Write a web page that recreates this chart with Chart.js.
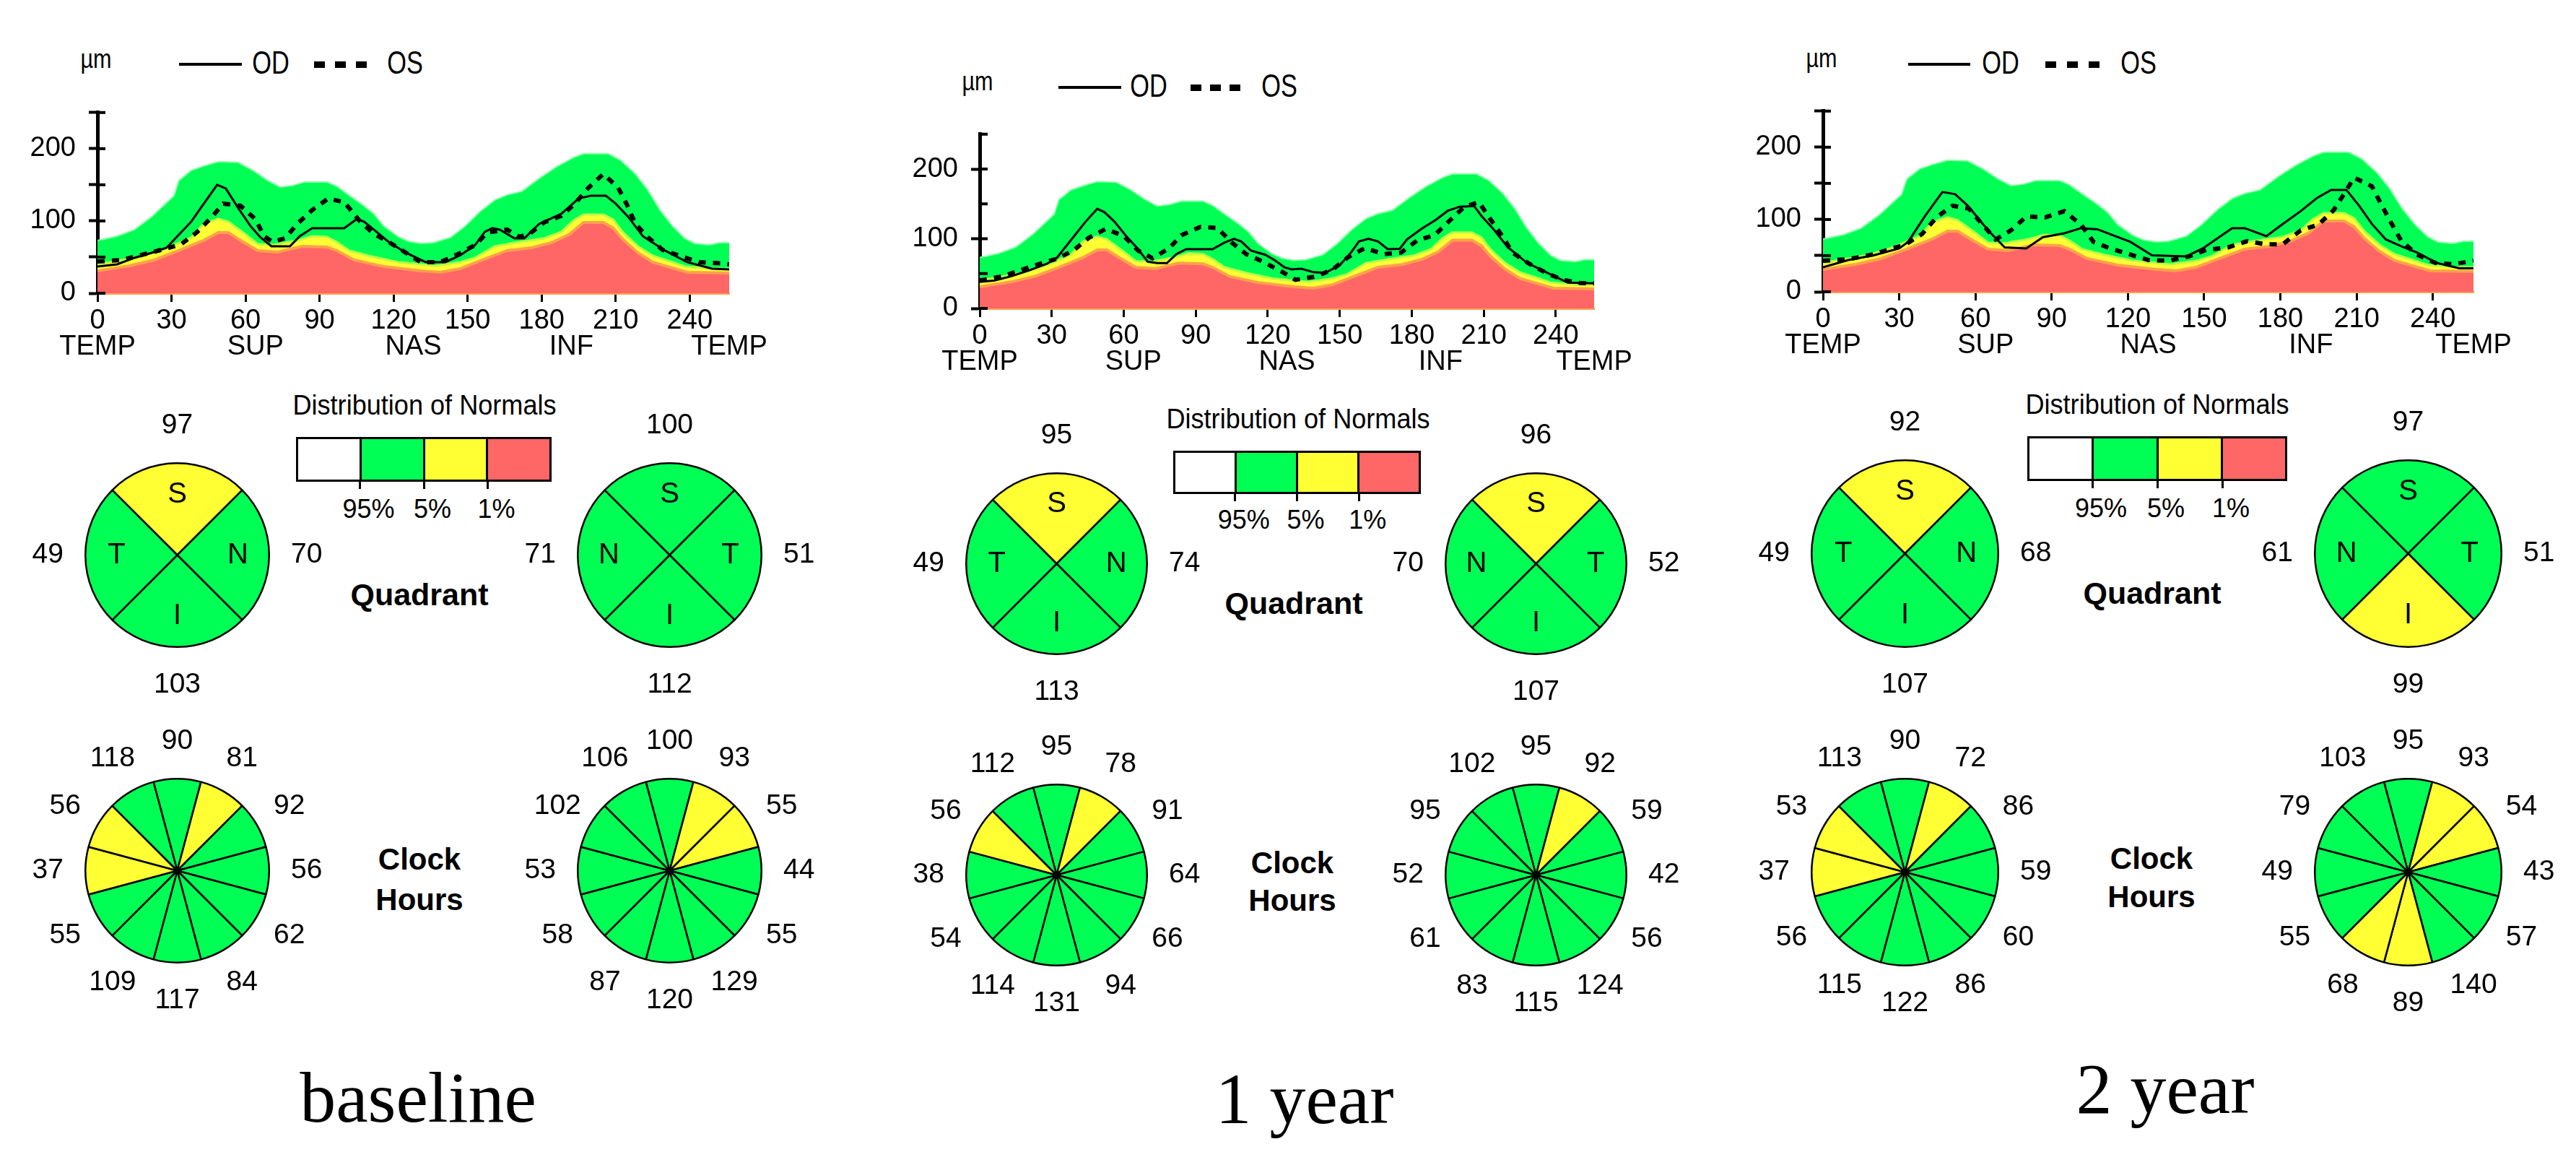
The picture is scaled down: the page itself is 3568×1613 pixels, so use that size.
<!DOCTYPE html>
<html>
<head>
<meta charset="utf-8">
<title>RNFL TSNIT – baseline, 1 year, 2 year</title>
<script src="https://cdn.jsdelivr.net/npm/chart.js@4.4.1/dist/chart.umd.min.js"></script>
<style>
  html, body { margin: 0; padding: 0; background: #fff; }
  #page { position: relative; width: 3568px; height: 1613px; overflow: hidden; background: #fff; }
  #page canvas { position: absolute; }
  .txt { position: absolute; white-space: nowrap; line-height: 1; color: #000;
         transform: translate(-50%, -50%); font-family: "Liberation Sans", Arial, sans-serif; }
  .blk { position: absolute; }
</style>
</head>
<body>
<div id="page"></div>
<script>
// ---- axis ticks / labels ----
const xTicks = [0, 30, 60, 90, 120, 150, 180, 210, 240];
const regionPos = [0, 64, 128, 192, 256];
const regionNames = ["TEMP", "SUP", "NAS", "INF", "TEMP"];
const yTicks = [0, 50, 100, 150, 200, 250];
const yLabels = [0, 100, 200];
const normLabels = ["95%", "5%", "1%"];
const titles = ["baseline", "1 year", "2 year"];

// ---- normative bands (upper limits, µm) ----
const grnX = [0,8,15,22,31,33,38,43,49,57,63,69,74,79,84,93,97,101,108,112,116,122,126,131,136,143,149,155,161,166,172,179,186,193,197,207,212,218,223,228,233,238,242,248,252,256];
const grnY = [73,79,88,106,135,156,170,176,182,181,170,156,147,149,154,154,148,138,121,110,93,78,72,69,70,77,93,113,129,136,141,159,175,188,193,193,184,165,143,115,93,76,69,67,70,70];
const yelX = [0,18,28,38,43,49,53,59,65,71,81,87,93,97,102,111,122,131,137,147,153,161,171,181,188,193,197,205,209,213,219,225,233,238,249,256];
const yelY = [40,51,62,77,96,103,99,84,68,67,73,79,78,71,59,51,43,40,38,43,49,65,71,76,85,101,109,109,102,84,65,52,43,37,34,34];
const redX = [0,13,23,33,43,49,53,59,65,73,83,93,97,104,116,131,139,147,156,166,176,184,191,197,205,209,213,219,225,233,239,256];
const redY = [31,38,46,59,73,84,84,71,59,57,65,64,59,46,37,31,29,34,46,59,63,70,81,98,98,90,74,56,43,35,29,28];

// ---- baseline ----
const od1X = [0,8,15,22,28,32,38,42.5,48.5,52,57,62,66,70.5,78,82,87,100,105,108,112,118,125,133,141,147,153,157,160,163,169,173,179,188,195,200,206,210,215,221,230,239,249,256];
const od1Y = [37,40,49,56,63,77.5,99,121,150,145,118,93,77.5,65,65,79,90,90,102.5,99,88,71,56,43,43,52.5,66.5,85,90,88,76,76,96,110,131,135,135,124,106,79,59,43,34,33];
const os1X = [0,10,19,27,34,40.5,46.5,51,58,64,67.5,71,76,81,87,93.5,100,106,112,118,125,131,139,146,153,158,166,171,175,181,188,193.5,199,205,211,214.5,218,223,229,236.5,244,252.5,256];
const os1Y = [44,46,54,61,68,85,106,124,121,102.5,79,71,76,96,115,131,126,101,82,71,56,43,43,54,66.5,84,88,78,82,98,107,124,146,165,146,123,96,77.5,60,51,43,41.5,40];
const quad1OD = [97, 70, 103, 49],  quad1ODCls = ["y","g","g","g"];
const quad1OS = [100, 51, 112, 71], quad1OSCls = ["g","g","g","g"];
const clock1OD = [90,81,92,56,62,84,117,109,55,37,56,118];
const clock1ODCls = ["g","y","g","g","g","g","g","g","g","y","y","g"];
const clock1OS = [100,93,55,44,55,129,120,87,58,53,102,106];
const clock1OSCls = ["g","y","y","g","g","g","g","g","g","g","g","g"];

// ---- 1 year ----
const od2X = [0,6,13,21,28,32,38,44,49,52,56,61,66,70,74,78,82,86,97,102,106,109,113,119,123,127,130,134,139,144,150,155,158,162,166,170,175,178,184,190,195,200,206,209,214,220,228,236,245,256];
const od2Y = [38,40,46,55,64,72,98,124,143,138,125,104,85,67,65,65,78,85,85,94.5,100,96,83,77,69,59,56,57,52,51,62,81.5,96,100,96,85,85.5,99,114,127,140,146,147,133,114,88,65.5,52,37,36];
const os2X = [0,9.5,18,25,32,39,45.5,52.5,60,66,72,79,84,92,99,105,111,118,126,131.5,140.5,147.5,153.5,160.5,168.5,175.5,182.5,189.5,195.5,202,208,213,218,222,229,236,243,250,256];
const os2Y = [40,46,56,64,71,83,101.5,114,104,83,72,86.5,105,117,115.5,94.5,78,67,52.5,41,46,57,73.5,86.5,78,80,98,105,125,146,152.5,127,102.5,80,64,51,41,36.5,36];
const quad2OD = [95, 74, 113, 49],  quad2ODCls = ["y","g","g","g"];
const quad2OS = [96, 52, 107, 70],  quad2OSCls = ["y","g","g","g"];
const clock2OD = [95,78,91,64,66,94,131,114,54,38,56,112];
const clock2ODCls = ["g","y","g","g","g","g","g","g","g","g","y","g"];
const clock2OS = [95,92,59,42,56,124,115,83,61,52,95,102];
const clock2OSCls = ["g","y","g","g","g","g","g","g","g","g","g","g"];

// ---- 2 year ----
const od3X = [0,10,20,30,33.5,40,47,52,57,65,71.5,80,86.5,95,101.5,108,115,121,129.5,143,149.5,161,166,174.5,181,188,194.5,200,206,211,216,221.5,227.5,234,241.5,250.5,256];
const od3Y = [34,44,50.5,60,69,104,138,135,119,85,61.5,60,75.5,81,88,86.5,77,69,50.5,49,60,88,88,77,94,111.5,130,141,141,119,94,72.5,63,54,40,32.5,32.5];
const os3X = [0,10,20,32.5,39,45,51,57.5,62.5,68,74,80,87.5,95,101.5,106.5,113,120.5,128,136,144,151,159.5,167,174.5,181,188,195,201,205,209,216,220,223.5,227.5,233.5,241,248,256];
const os3Y = [43,45,52,65.5,80,104,119,115,94,72.5,85,104,103,111.5,93,69,60,52,44,43,49,58,61.5,70,65.5,66,85,93,113,135,158,146,119,96,71,52,40,38,43];
const quad3OD = [92, 68, 107, 49],  quad3ODCls = ["y","g","g","g"];
const quad3OS = [97, 51, 99, 61],   quad3OSCls = ["g","g","y","g"];
const clock3OD = [90,72,86,59,60,86,122,115,56,37,53,113];
const clock3ODCls = ["g","y","g","g","g","g","g","g","g","y","y","g"];
const clock3OS = [95,93,54,43,57,140,89,68,55,49,79,103];
const clock3OSCls = ["g","y","y","g","g","g","y","y","g","g","g","g"];

// sectors: quadrants clockwise from top, clock hours 12,1,...,11
const quadSpan = [90, 90, 90, 90];
const clockSpan = [30, 30, 30, 30, 30, 30, 30, 30, 30, 30, 30, 30];
const quadLettersOD = ["S", "N", "I", "T"];
const quadLettersOS = ["S", "T", "I", "N"];

// ---- styling ----
const FONT = '"Liberation Sans", Arial, sans-serif';
const GREEN = "#00ff55", YELLOW = "#ffff33", RED = "#ff6666";
const ORANGE = "#ffa04d", LIME = "#b8ff45", PALEGREEN = "#8cffab";
const CLS = { g: GREEN, y: YELLOW, r: RED, w: "#ffffff" };
const normColors = ["#ffffff", GREEN, YELLOW, RED];

const page = document.getElementById("page");

function text(str, x, y, size, style) {
  const d = document.createElement("div");
  d.className = "txt";
  d.textContent = str;
  d.style.left = x + "px";
  d.style.top = y + "px";
  d.style.fontSize = size + "px";
  if (style) Object.assign(d.style, style);
  page.appendChild(d);
  return d;
}

function block(x, y, w, h, color) {
  const d = document.createElement("div");
  d.className = "blk";
  Object.assign(d.style, { left: x + "px", top: y + "px", width: w + "px", height: h + "px", background: color });
  page.appendChild(d);
  return d;
}

function canvasAt(x, y, w, h) {
  const c = document.createElement("canvas");
  c.width = Math.round(w);
  c.height = Math.round(h);
  c.style.left = Math.round(x) + "px";
  c.style.top = Math.round(y) + "px";
  page.appendChild(c);
  return c;
}

function pts(xs, ys) {
  return xs.map((x, i) => ({ x: x, y: ys[i] }));
}

// short tick marks on the inner side of the y axis
const innerTicks = {
  id: "innerTicks",
  afterDraw(chart) {
    const ctx = chart.ctx, ys = chart.scales.y, left = chart.chartArea.left;
    ctx.save();
    ctx.strokeStyle = "#000";
    ctx.lineWidth = 4;
    yTicks.forEach(v => {
      const py = ys.getPixelForValue(v);
      ctx.beginPath();
      ctx.moveTo(left - 2, py);
      ctx.lineTo(left + 11, py);
      ctx.stroke();
    });
    ctx.restore();
  }
};

function tsnit(area, odX, odY, osX, osY) {
  const padL = 130, padT = 24, padR = 70, axH1 = 50, axH2 = 56;
  const w = area.right - area.left, h = area.bottom - area.top;
  const cv = canvasAt(area.left - padL, area.top - padT, w + padL + padR, h + padT + axH1 + axH2);
  const tickFont = { family: FONT, size: 38 };
  new Chart(cv, {
    type: "line",
    data: {
      datasets: [
        { data: pts(odX, odY), borderColor: "#000", borderWidth: 3, fill: false, order: 0 },
        { data: pts(osX, osY), borderColor: "#000", borderWidth: 6, borderDash: [10, 10], fill: false, order: 0 },
        { data: pts(redX, redY), backgroundColor: RED, borderColor: ORANGE, borderWidth: 4, fill: "origin", order: 1 },
        { data: pts(yelX, yelY), backgroundColor: YELLOW, borderColor: LIME, borderWidth: 3, fill: "origin", order: 2 },
        { data: pts(grnX, grnY), backgroundColor: GREEN, borderColor: PALEGREEN, borderWidth: 2, fill: "origin", order: 3 }
      ]
    },
    options: {
      responsive: false,
      animation: false,
      devicePixelRatio: 1,
      layout: { padding: { left: 0, top: padT, right: padR, bottom: 0 } },
      elements: { point: { radius: 0 }, line: { tension: 0 } },
      plugins: { legend: { display: false }, tooltip: { enabled: false } },
      scales: {
        x: {
          type: "linear", axis: "x", position: "bottom", min: 0, max: 256,
          afterBuildTicks: a => { a.ticks = xTicks.map(v => ({ value: v })); },
          afterFit: a => { a.height = axH1; },
          border: { display: true, color: ORANGE, width: 3 },
          grid: { drawOnChartArea: false, drawTicks: true, tickLength: 12, tickWidth: 3, tickColor: "#000" },
          ticks: { autoSkip: false, maxRotation: 0, padding: 4, color: "#000", font: tickFont }
        },
        x2: {
          type: "linear", axis: "x", position: "bottom", min: 0, max: 256,
          afterBuildTicks: a => { a.ticks = regionPos.map(v => ({ value: v })); },
          afterFit: a => { a.height = axH2; },
          border: { display: false },
          grid: { display: false, drawTicks: false },
          ticks: { autoSkip: false, maxRotation: 0, padding: 2, color: "#000", font: tickFont,
                   callback: (v, i) => regionNames[i] }
        },
        y: {
          type: "linear", position: "left", min: 0, max: 250,
          afterBuildTicks: a => { a.ticks = yTicks.map(v => ({ value: v })); },
          afterFit: a => { a.width = padL; },
          border: { display: true, color: "#000", width: 5 },
          grid: { drawOnChartArea: false, tickLength: 12, tickWidth: 4, tickColor: "#000" },
          ticks: { padding: 18, color: "#000", font: tickFont,
                   callback: v => (yLabels.includes(v) ? String(v) : "") }
        }
      }
    },
    plugins: [innerTicks]
  });
}

// numbers round the disc, letters inside
const ringLabels = {
  id: "ringLabels",
  afterDraw(chart, args, opts) {
    const ctx = chart.ctx;
    const meta = chart.getDatasetMeta(0);
    ctx.save();
    ctx.fillStyle = "#000";
    ctx.textAlign = "center";
    ctx.textBaseline = "middle";
    meta.data.forEach((arc, i) => {
      const p = arc.getProps(["x", "y", "startAngle", "endAngle", "outerRadius"], true);
      const a = (p.startAngle + p.endAngle) / 2;
      ctx.font = "39px " + FONT;
      const rr = p.outerRadius + opts.gap;
      ctx.fillText(String(opts.values[i]), p.x + Math.cos(a) * rr, p.y + Math.sin(a) * rr);
      if (opts.letters) {
        ctx.font = "40px " + FONT;
        const ri = p.outerRadius * 0.66;
        ctx.fillText(opts.letters[i], p.x + Math.cos(a) * ri, p.y + Math.sin(a) * ri);
      }
    });
    ctx.restore();
  }
};

function disc(cx, cy, r, span, values, cls, letters) {
  const pad = 110, bw = 2.5;
  const size = 2 * r + bw;
  const cv = canvasAt(cx - size / 2 - pad, cy - size / 2 - pad, size + 2 * pad, size + 2 * pad);
  new Chart(cv, {
    type: "pie",
    data: {
      labels: values.map(String),
      datasets: [{
        data: span,
        backgroundColor: cls.map(c => CLS[c]),
        borderColor: "#000",
        borderWidth: bw
      }]
    },
    options: {
      responsive: false,
      animation: false,
      devicePixelRatio: 1,
      rotation: -span[0] / 2,
      layout: { padding: pad },
      plugins: {
        legend: { display: false },
        tooltip: { enabled: false },
        ringLabels: { values: values, letters: letters, gap: 52 }
      }
    },
    plugins: [ringLabels]
  });
}

function legendRow(L) {
  text("µm", L.mu[0], L.mu[1], 36, { transform: "translate(-50%,-50%) scaleX(0.85)" });
  block(L.line[0], L.y - 2, L.line[1], 4, "#000");
  text("OD", L.od, L.ty, 44, { transform: "translate(-50%,-50%) scaleX(0.78)" });
  for (let k = 0; k < 3; k++) block(L.sq[0] + k * (15 + L.sq[1]), L.y - 4.5, 15, 9, "#000");
  text("OS", L.os, L.ty, 44, { transform: "translate(-50%,-50%) scaleX(0.78)" });
}

function normBox(D) {
  text("Distribution of Normals", D.cx, D.ty, 38, { transform: "translate(-50%,-50%) scaleX(0.95)" });
  const [bx, by, bw, bh] = D.box;
  const box = block(bx, by, bw, bh, "#000");
  box.style.boxSizing = "border-box";
  box.style.border = "3px solid #000";
  box.style.display = "flex";
  box.style.background = "#fff";
  normColors.forEach((c, i) => {
    const cell = document.createElement("div");
    cell.style.flex = "1";
    cell.style.background = c;
    if (i > 0) cell.style.borderLeft = "3px solid #000";
    box.appendChild(cell);
  });
  normLabels.forEach((lab, k) => {
    const dx = bx + bw * (k + 1) / 4;
    block(dx - 1.5, by + bh, 3, 10, "#000");
    text(lab, dx + 12, D.ly, 36);
  });
}

function serifTitle(str, cx, base) {
  text(str, cx, base - 84, 100, {
    fontFamily: '"Liberation Serif", "Times New Roman", serif',
    transform: "translate(-50%, 0)"
  });
}

const panels = [
  {
    chart: { left: 135.3, right: 1010.3, top: 139.3, bottom: 406 },
    od: [od1X, od1Y], os: [os1X, os1Y],
    legend: { mu: [133, 82], y: 89, ty: 87, line: [248, 87], od: 375, sq: [435, 14], os: 561 },
    norm: { cx: 588, ty: 561, box: [410, 605, 354, 62], ly: 705 },
    quadText: [581, 823], clockText: [581, 1190, 1246], title: [579, 1554],
    discs: { xl: 245, xr: 927, qy: 768, cy: 1205, r: 127 },
    quadOD: quad1OD, quadODCls: quad1ODCls, quadOS: quad1OS, quadOSCls: quad1OSCls,
    clockOD: clock1OD, clockODCls: clock1ODCls, clockOS: clock1OS, clockOSCls: clock1OSCls
  },
  {
    chart: { left: 1356.7, right: 2208.2, top: 169.4, bottom: 427.7 },
    od: [od2X, od2Y], os: [os2X, os2Y],
    legend: { mu: [1354, 113], y: 121, ty: 119, line: [1466, 87], od: 1591, sq: [1649, 12], os: 1772 },
    norm: { cx: 1798, ty: 580, box: [1625, 624, 343, 60], ly: 720 },
    quadText: [1792, 835], clockText: [1790, 1195, 1247], title: [1807, 1556],
    discs: { xl: 1463, xr: 2127, qy: 780, cy: 1211, r: 125 },
    quadOD: quad2OD, quadODCls: quad2ODCls, quadOS: quad2OS, quadOSCls: quad2OSCls,
    clockOD: clock2OD, clockODCls: clock2ODCls, clockOS: clock2OS, clockOSCls: clock2OSCls
  },
  {
    chart: { left: 2524.7, right: 3425.3, top: 137.3, bottom: 404 },
    od: [od3X, od3Y], os: [os3X, os3Y],
    legend: { mu: [2523, 81], y: 89, ty: 87, line: [2643, 86], od: 2771, sq: [2833, 15], os: 2962 },
    norm: { cx: 2988, ty: 560, box: [2808, 604, 360, 62], ly: 704 },
    quadText: [2981, 821], clockText: [2980, 1189, 1242], title: [2999, 1542],
    discs: { xl: 2638, xr: 3335, qy: 766, cy: 1207, r: 129 },
    quadOD: quad3OD, quadODCls: quad3ODCls, quadOS: quad3OS, quadOSCls: quad3OSCls,
    clockOD: clock3OD, clockODCls: clock3ODCls, clockOS: clock3OS, clockOSCls: clock3OSCls
  }
];

panels.forEach((P, i) => {
  tsnit(P.chart, P.od[0], P.od[1], P.os[0], P.os[1]);
  legendRow(P.legend);
  normBox(P.norm);
  text("Quadrant", P.quadText[0], P.quadText[1], 43, { fontWeight: "bold" });
  text("Clock", P.clockText[0], P.clockText[1], 42, { fontWeight: "bold" });
  text("Hours", P.clockText[0], P.clockText[2], 42, { fontWeight: "bold" });
  const D = P.discs;
  disc(D.xl, D.qy, D.r, quadSpan, P.quadOD, P.quadODCls, quadLettersOD);
  disc(D.xr, D.qy, D.r, quadSpan, P.quadOS, P.quadOSCls, quadLettersOS);
  disc(D.xl, D.cy, D.r, clockSpan, P.clockOD, P.clockODCls, null);
  disc(D.xr, D.cy, D.r, clockSpan, P.clockOS, P.clockOSCls, null);
  serifTitle(titles[i], P.title[0], P.title[1]);
});
</script>
</body>
</html>
